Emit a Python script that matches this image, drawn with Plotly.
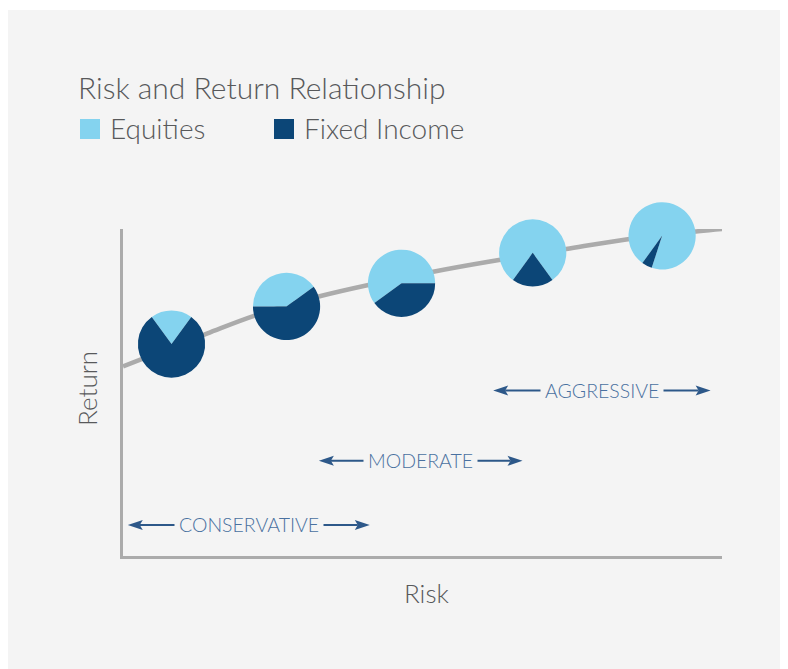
import plotly.graph_objects as go

W, H = 788, 669
OFF = 8  # page offset of the figure (body margin)

# ---------------- data ----------------
curve_risk = [0, 14, 22, 33, 52, 63, 74, 84, 96, 100]
curve_return = [58, 68, 73.5, 79.5, 87, 90.6, 93.9, 96.8, 99.3, 100]

portfolio_risk = [8.1, 27.3, 46.5, 68.4, 90.0]
portfolio_return = [64.8, 76.3, 83.4, 92.7, 97.9]
asset_labels = ["Equities", "Fixed Income"]
equities = [20, 40, 60, 80, 95]
fixed_income = [80, 60, 40, 20, 5]

profile_labels = ["CONSERVATIVE", "MODERATE", "AGGRESSIVE"]
profile_risk_from = [0.8, 32.7, 61.8]
profile_risk_to = [41.2, 66.7, 98.1]

# ---------------- styles / layout ----------------
LIGHT = "#84d3ef"
DARK = "#0c4677"
GRAY_LINE = "#ababab"
TEXT = "#58595b"
ARROW = "#2d5889"
ARROW_TEXT = "#4a71a0"
PANEL = "#f4f4f4"
FONT = "Lato"

pie_rotation = [-36, 270, 234, 216, 216]
label_levels = [9.5, 29.1, 50.6]


def fx(p):  # page px -> paper x
    return (p - OFF) / W


def fy(p):  # page px -> paper y
    return 1 - (p - OFF) / H


X_PX = (123, 722)
Y_PX = (556, 229)
X_DOM = [fx(X_PX[0]), fx(X_PX[1])]
Y_DOM = [fy(Y_PX[0]), fy(Y_PX[1])]
PIE_R = 33.6


def px(v):
    return X_DOM[0] + (X_DOM[1] - X_DOM[0]) * v / 100.0


def py(v):
    return Y_DOM[0] + (Y_DOM[1] - Y_DOM[0]) * v / 100.0


kx = 100.0 / (X_PX[1] - X_PX[0])
ky = 100.0 / (Y_PX[0] - Y_PX[1])

fig = go.Figure()

fig.add_trace(go.Scatter(
    x=curve_risk, y=curve_return, mode="lines",
    line=dict(color=GRAY_LINE, width=4.5, shape="spline", smoothing=1.0),
    hoverinfo="skip", showlegend=False,
))

for i in range(len(portfolio_risk)):
    cx, cy = px(portfolio_risk[i]), py(portfolio_return[i])
    fig.add_trace(go.Pie(
        labels=asset_labels,
        values=[equities[i], fixed_income[i]],
        marker=dict(colors=[LIGHT, DARK], line=dict(width=0)),
        sort=False, direction="clockwise", rotation=pie_rotation[i],
        textinfo="none", hoverinfo="label+percent", showlegend=False,
        domain=dict(x=[cx - PIE_R / W, cx + PIE_R / W],
                    y=[cy - PIE_R / H, cy + PIE_R / H]),
    ))

shapes = [
    dict(type="rect", xref="paper", yref="paper", x0=0, x1=1, y0=0, y1=fy(10),
         fillcolor=PANEL, line=dict(width=0), layer="below"),
    dict(type="rect", xref="paper", yref="paper", x0=fx(80), x1=fx(100),
         y0=fy(139), y1=fy(119), fillcolor=LIGHT, line=dict(width=0)),
    dict(type="rect", xref="paper", yref="paper", x0=fx(274), x1=fx(294),
         y0=fy(139), y1=fy(119), fillcolor=DARK, line=dict(width=0)),
]


def txt(text, x, y, size, xanchor="left", angle=0, color=TEXT):
    return dict(text=text, xref="paper", yref="paper", x=fx(x), y=fy(y),
                xanchor=xanchor, yanchor="middle", showarrow=False, textangle=angle,
                font=dict(family=FONT, size=size, color=color, weight=300))


annotations = [
    txt("Risk and Return Relationship", 76, 87, 30),
    txt(asset_labels[0], 108, 128, 28),
    txt(asset_labels[1], 302, 128, 28),
    txt("Risk", 426.5, 593, 26, xanchor="center"),
    txt("Return", 87, 389, 26, xanchor="center", angle=-90),
]

HEAD_L, HEAD_N, HEAD_W = 15, 12, 5
for lab, a, b, lev in zip(profile_labels, profile_risk_from, profile_risk_to, label_levels):
    shapes.append(dict(type="line", xref="x", yref="y",
                       x0=a + HEAD_N * kx, x1=b - HEAD_N * kx, y0=lev, y1=lev,
                       line=dict(color=ARROW, width=2)))
    left = (f"M{a},{lev} L{a + HEAD_L * kx},{lev + HEAD_W * ky} "
            f"L{a + HEAD_N * kx},{lev} L{a + HEAD_L * kx},{lev - HEAD_W * ky} Z")
    right = (f"M{b},{lev} L{b - HEAD_L * kx},{lev + HEAD_W * ky} "
             f"L{b - HEAD_N * kx},{lev} L{b - HEAD_L * kx},{lev - HEAD_W * ky} Z")
    for p in (left, right):
        shapes.append(dict(type="path", xref="x", yref="y", path=p,
                           fillcolor=ARROW, line=dict(width=0)))
    annotations.append(dict(
        text=lab, x=(a + b) / 2, y=lev, xref="x", yref="y", showarrow=False,
        xanchor="center", yanchor="middle", bgcolor=PANEL, borderpad=4,
        font=dict(family=FONT, size=19.5, color=ARROW_TEXT, weight=300)))

fig.update_layout(
    width=W, height=H,
    margin=dict(l=0, r=0, t=0, b=0),
    paper_bgcolor="white", plot_bgcolor="rgba(0,0,0,0)",
    showlegend=False,
    shapes=shapes, annotations=annotations,
    xaxis=dict(domain=X_DOM, range=[0, 100], showline=True, linecolor=GRAY_LINE,
               linewidth=2.5, showgrid=False, zeroline=False, showticklabels=False,
               ticks="", fixedrange=True),
    yaxis=dict(domain=Y_DOM, range=[0, 100], showline=True, linecolor=GRAY_LINE,
               linewidth=2.5, showgrid=False, zeroline=False, showticklabels=False,
               ticks="", fixedrange=True),
)

fig.write_html("out.html")
